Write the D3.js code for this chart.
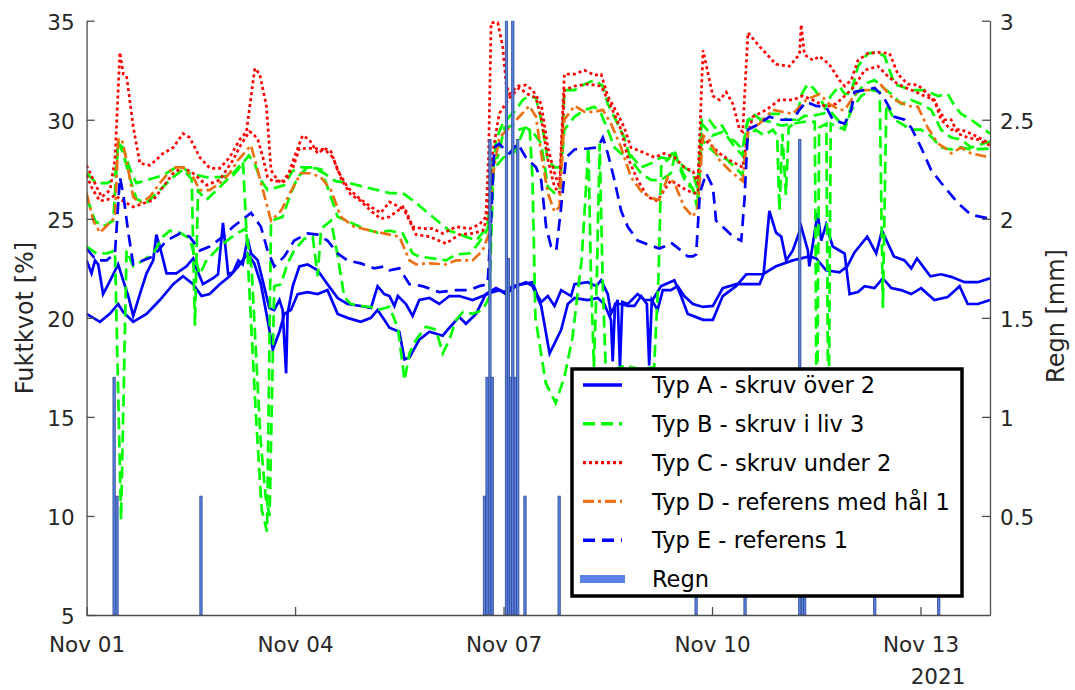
<!DOCTYPE html>
<html>
<head>
<meta charset="utf-8">
<script src="https://cdn.jsdelivr.net/npm/d3@7"></script>
<style>
  body { margin: 0; background: #fff; }
  svg { display: block; font-family: "DejaVu Sans", sans-serif; }
</style>
</head>
<body>
<svg width="1075" height="690"></svg>
<script>
// hours since 2021-11-01 00:00, value
var typA1 = [[0,22.9],[1.7,22.25],[2.9,22.9],[4,22.7],[5.7,21.2],[7.5,21.7],[9.2,22.2],[10.9,22.7],[12.6,21.9],[14.4,21.1],[16.1,20.1],[18.4,21.2],[20.7,22.25],[23,22.9],[24.1,24.2],[25.9,23.25],[27.6,22.25],[31,22.25],[34.5,22.6],[36.8,23.0],[37.9,22.5],[40.2,21.7],[43.7,22.0],[45.4,22.2],[47.1,24.8],[48.9,22.2],[50.6,22.3],[52.4,22.9],[53.9,22.7],[55.6,24.0],[56.8,23.25],[59.1,22.9],[60.8,21.9],[63.1,20.5],[64.8,20.4],[66.6,20.9],[67.7,20.4],[68.9,17.2],[69.4,20.2],[71.2,21.6],[73.5,22.6],[76.3,22.7],[79.8,22.4],[83.2,21.7],[86.7,21.0],[90.1,20.7],[94.7,20.6],[98.2,20.5],[100.5,21.6],[102.8,21.2],[104.6,21.1],[106.3,20.6],[107.5,21.1],[110.3,20.7],[112.6,20.1],[114.9,20.9],[118.4,21.0],[121.8,20.7],[125.3,21.1],[128.7,21.1],[133.3,20.9],[136.8,21.1],[140.2,21.3],[142.5,21.4],[144.8,21.2],[148.3,21.6],[151.7,21.8],[154,21.6],[157,20.6],[159.9,18.2],[163.9,19.4],[166.2,20.7],[168.5,21.0],[173.1,20.9],[176.5,21.0],[178.8,20.7],[181.1,19.9],[181.7,17.8],[182.5,20.7],[184.6,20.7],[186.9,20.6],[189.2,20.6],[191.5,21.1],[193.5,20.7],[194.3,17.6],[195.2,20.9],[197.2,20.4],[199,21.4],[201.8,21.4],[204.1,21.6],[206.4,21.1],[209.4,20.7],[212.9,20.55],[216.3,20.6],[219.7,21.5],[224.3,21.7],[227.8,21.7],[232.4,21.7],[233.8,22.2],[235.8,25.4],[238.1,24.3],[239.9,24.1],[241.6,22.9],[243.9,23.4],[246.8,24.6],[249.1,23.4],[249.6,22.6],[252.5,25.3],[253.7,23.9],[255.4,24.7],[257.7,23.6],[260,23.4],[261.8,23.25],[263.5,21.2],[266.4,21.3],[268.7,21.6],[272.1,21.5],[275,22.0],[277.9,21.5],[281.3,21.4],[284.8,21.2],[288.2,21.5],[292.8,20.9],[297.4,21.05],[301.5,21.6],[304.3,20.7],[307.8,20.7],[312,20.9]];
var typA2 = [[0,20.2],[4.6,19.8],[8,20.2],[10.9,20.7],[12.6,20.3],[16.1,19.8],[20.7,20.2],[25.3,20.9],[29.9,21.7],[33.3,22.1],[36.8,21.7],[39.7,21.1],[42.5,21.2],[46,21.7],[49.4,22.1],[52.4,22.6],[55.6,23.25],[57.9,22.75],[60.2,21.7],[62.5,19.9],[64.3,18.4],[66.6,19.3],[68.3,20.2],[70.6,20.4],[72.9,21.2],[76.3,21.3],[79.8,21.2],[83.2,21.4],[86.7,20.2],[90.1,20.0],[94.7,19.8],[98.2,20.0],[100.5,20.4],[102.8,19.9],[104.6,19.5],[108,19.3],[109.8,17.9],[111.5,18.0],[114.9,18.9],[118.4,19.3],[123,19.1],[125.3,19.5],[128.7,20.05],[131,19.7],[134.5,20.2],[137.9,21.2],[141.4,21.5],[144.3,21.3],[147.1,21.6],[150.6,21.7],[154,21.8],[155.5,21.2],[157,20.8],[159.3,21.1],[161.6,20.6],[163.9,21.4],[167.3,21.1],[168.5,21.7],[173.1,21.8],[176,21.6],[177.7,21.9],[180,21.2],[181.1,20.2],[183.4,20.9],[184.2,17.5],[185,20.8],[186.9,20.7],[190.3,21.2],[192.6,20.9],[195.5,20.9],[198.4,21.6],[203,21.9],[205.3,21.1],[207.6,20.2],[209.4,20.1],[212.9,19.9],[216.3,19.9],[219.7,21.1],[224.3,21.6],[227.8,22.2],[233.6,22.2],[238.1,22.6],[243.9,22.9],[249.6,23.1],[252,23.0],[255.4,22.4],[260,22.3],[262.7,22.6],[265.2,23.3],[269.6,24.1],[272.7,23.25],[274.7,24.4],[278.8,23.1],[282.5,22.9],[284.8,22.5],[286.8,23.0],[291.4,22.1],[295.1,22.2],[298.6,22.07],[303.2,21.8],[307.8,21.8],[312,22.0]];
var typB1 = [[0,27.3],[3.4,26.8],[7,26.8],[9.8,27.0],[10.9,28.8],[12.6,28.6],[15,27.5],[17.2,26.8],[21.8,27.0],[26.4,27.2],[31,27.6],[33.3,27.6],[35.6,27.3],[41.4,27.1],[46,27.1],[50.6,27.2],[52.4,27.5],[56,28.2],[58,27.8],[60,27.0],[62.5,26.45],[66,26.6],[68.3,26.7],[71,27.4],[74,27.6],[78,27.6],[82,27.3],[86,26.9],[91,26.8],[96,26.6],[100.5,26.45],[104.6,26.3],[109.2,26.3],[113.8,25.8],[119.5,25.1],[125.3,24.4],[131,24.1],[134.5,23.9],[136.8,24.3],[138.5,24.8],[139.7,26.1],[141.4,29.0],[143.7,29.8],[146,30.15],[148.3,30.5],[150.6,31.0],[152.9,31.2],[155.2,31.1],[157,30.0],[159.3,27.96],[161.6,27.6],[163.9,27.6],[165,31.5],[168.5,31.5],[172,31.8],[175.4,32.0],[178.3,31.7],[180,30.8],[183.4,29.8],[185.7,29.1],[188,27.96],[191.5,27.3],[195,26.95],[198.4,26.95],[201.8,27.3],[203,28.1],[206.4,27.6],[209.4,27.3],[211,26.5],[212.5,30.0],[215,30.0],[217,29.6],[219,29.8],[222,29.1],[224,28.9],[226.5,28.5],[228,29.8],[230,30.3],[233,30.0],[236,30.3],[239,30.3],[242,30.0],[245,30.0],[247,31.3],[249,31.8],[251,31.6],[253,31.2],[255,30.6],[257,31.2],[260,31.7],[261.8,31.3],[264,31.3],[266.4,32.7],[269.8,33.35],[273.3,33.4],[275.6,33.2],[279,31.8],[284.8,31.5],[289.4,31.5],[294,31.2],[297.4,31.3],[299.8,30.7],[302,30.3],[305.5,30.0],[312,29.3]];
var typB2 = [[0,26.1],[2.9,24.9],[5.7,24.6],[9.2,24.9],[10.9,28.9],[12.6,28.3],[14.9,27.1],[17.2,26.0],[20.7,25.8],[25.3,26.45],[29.9,27.1],[33.3,27.5],[36.3,27.0],[37.4,19.6],[38.5,26.5],[39.1,26.3],[41.4,25.95],[46,26.6],[49.4,27.1],[52.4,27.6],[54,27.9],[56,22],[58.5,15],[60.5,10.3],[62.3,9.2],[63.7,24.9],[67.7,25.1],[70.6,26.3],[72.9,27.1],[76.3,27.6],[81,27.5],[83.2,26.6],[86.7,25.1],[91.3,24.8],[95.9,24.5],[100.5,24.3],[104.6,24.4],[109.2,24.26],[112.6,23.25],[114.9,23.1],[119.5,23.0],[124.1,22.9],[127.6,23.2],[132.2,23.25],[134.5,23.6],[137.9,24.3],[139.1,24.8],[140.2,27.96],[142,28.1],[144.3,29.6],[147.1,29.7],[149.4,29.5],[151.7,29.6],[154,29.4],[157,28.8],[159.3,26.6],[161.6,26.3],[163.3,26.4],[165,29.5],[168.5,30.15],[172,30.5],[175.4,30.65],[177.7,30.3],[180,29.5],[182.3,28.6],[184.6,28.3],[188,28.2],[191.5,27.6],[195,27.8],[198.4,28.1],[201.8,28.0],[203,28.3],[206.4,27.2],[209.4,26.5],[211,25.5],[212.5,29.0],[215,28.6],[218,28.2],[221,28.0],[224,27.6],[226.5,27.2],[228.4,29.2],[231,29.5],[234,29.2],[237,29.5],[238.5,29.2],[239.3,25.4],[240.3,29.3],[241.5,26.2],[242.5,29.6],[245,29.9],[248,30.2],[251,30.2],[254,30.3],[257,30.4],[261.8,29.6],[265.2,31.2],[268.7,31.8],[272.1,32.0],[274.4,31.7],[277.9,31.3],[281.3,30.8],[284.8,31.0],[288.2,30.8],[291.7,30.5],[295.1,29.5],[298.6,29.1],[302,29.0],[305.5,28.6],[312,28.9]];
var typB3 = [[0,23.6],[3.4,23.25],[7,23.25],[9.8,23.4],[11.9,9.8],[13.8,23.4],[16.1,22.6],[19.5,22.9],[23,23.25],[26.4,24.1],[28.7,24.4],[32.2,24.3],[35.6,24.0],[39.1,22.2],[41.4,22.9],[46,23.6],[49.4,24.0],[52.4,24.3],[55,24.5],[57,22.5],[60,14],[61.8,11],[63.2,10],[64.8,21.6],[67.1,21.7],[69.4,22.75],[71.7,23.4],[75.2,24.0],[78.1,24.1],[79.8,22.1],[81,24.5],[84.4,24.9],[86.5,23.3],[89,21.05],[91.3,20.7],[94.7,20.6],[98.2,20.55],[100.5,20.4],[104.6,20.55],[107.5,19.5],[109.8,16.85],[111.5,18.2],[113.8,18.9],[117.2,19.55],[120.7,19.4],[123,18.2],[125.3,18.9],[127.6,19.9],[130,20.3],[133.3,20.2],[136.8,20.4],[139.1,21.05],[140.5,27.5],[144,28.1],[148,28.4],[151,29.5],[153,29.6],[154,27],[155,20],[158.6,16.7],[162,15.7],[165,17],[167.8,19],[171,23],[173.3,28.6],[174.2,22],[175.2,17.5],[176.2,22],[177.2,28.8],[178.2,22],[179.5,16.5],[181,17.3],[186,17.6],[191,17.4],[196,17.5],[197.5,22],[198.5,27.8],[201,28.0],[203,28.5],[205,27.5],[207,26.8],[209.4,26.5],[211,26.0],[212.5,29.8],[216,29.2],[220,29.4],[224,28.6],[226.5,28.2],[228.4,30.0],[232,30.0],[236,29.9],[240,29.7],[244,29.8],[248,29.9],[251.5,29.9],[252.2,13],[253,29.6],[255.5,29.8],[256.2,13],[257,29.8],[261.8,29.5],[264.1,30.5],[267.5,31.2],[271,31.5],[273.9,31.4],[275,20.5],[276.2,30.8],[279,30.0],[282.5,29.7],[284.8,29.5],[288.2,29.5],[291.7,29.15],[295.1,28.6],[298.6,28.5],[302,28.6],[305.5,28.5],[312,28.55]];
var typC1 = [[0,27.7],[3.5,26.6],[5.2,26.1],[8.1,26.45],[9.8,28.0],[11.5,33.4],[12.7,32.3],[13.8,32.2],[16.1,29.65],[18.4,27.8],[21.9,27.7],[26.4,28.3],[29.9,28.6],[33.3,29.3],[35.6,29.1],[39.1,28.1],[42.6,27.55],[46,27.55],[49.4,28.1],[52.9,29.0],[55.2,29.4],[58.1,32.6],[59.8,32.3],[62.1,30.7],[63.7,27.45],[66,26.95],[67.7,26.8],[69.4,27.1],[71.7,28.1],[74.6,29.2],[76.9,29.0],[79.8,28.3],[82.1,28.55],[84.4,28.4],[86.7,27.45],[90.1,26.6],[93.6,26.1],[98.2,25.6],[101.6,25.3],[104.6,25.85],[108,25.6],[110.3,25.4],[112.6,24.6],[116,24.5],[119.5,24.5],[123,24.26],[127.6,24.6],[132.2,24.5],[135.6,24.7],[137.9,25.1],[138.8,28.0],[139.7,34.9],[142,34.9],[143.7,33.7],[144.9,31.8],[146,31.3],[148.9,31.7],[151.7,31.75],[154,31.5],[157,30.8],[159.3,28.6],[161.6,27.3],[163.3,26.6],[165,32.3],[168.5,32.3],[172,32.5],[175.4,32.25],[177.7,32.3],[180,31.2],[183.4,30.3],[185.7,29.6],[188,28.6],[191.5,28.4],[196.1,28.1],[199.5,28.3],[203,28.1],[206.4,27.6],[209.4,27.4],[211.1,26.8],[212.9,33.5],[216.3,31.2],[218.6,31.0],[220.9,31.4],[223.2,30.8],[225.5,29.5],[226.6,29.4],[228.4,34.4],[232.4,33.7],[238.1,32.8],[242.7,32.7],[246.2,33.3],[246.8,34.8],[247.9,33.3],[250.8,33.0],[253.1,33.2],[256.5,32.8],[260,32.0],[261.8,31.7],[264.1,32.0],[266.4,33.0],[269.8,33.35],[273.3,33.4],[277.3,33.35],[280.2,32.3],[283.6,31.8],[287.1,31.75],[290.5,31.3],[293.4,30.8],[296.3,30.0],[298.6,30.0],[300.9,29.3],[304.3,29.1],[307.8,29.0],[312,28.7]];
var typC2 = [[0,27.2],[2,26.5],[4.6,25.9],[8,26.0],[9.8,26.2],[11.5,26.0],[13.8,25.8],[16.1,25.6],[23,25.95],[29.9,27.3],[33.3,27.6],[36.8,27.3],[41.4,26.7],[46,26.96],[50.6,27.97],[52.9,28.64],[56.2,29.4],[57.5,29.3],[59.2,28.97],[60.9,28.1],[62.5,27.1],[64.4,26.9],[67.8,26.9],[71.3,27.6],[73.5,28.55],[76.3,28.55],[78.2,28.56],[82.2,28.5],[85.1,28.1],[88,27.0],[91.3,26.2],[94.3,25.95],[98.2,25.4],[101.6,25.0],[104.6,25.1],[109.2,25.6],[113.8,24.2],[118.4,24.1],[124.1,23.75],[128.7,24.2],[133.3,24.26],[136.8,24.4],[138.3,25.0],[140.2,28.3],[142.5,30.3],[146,31.1],[149.4,31.6],[152.3,31.3],[155.2,31.1],[157,30.1],[159.3,28.0],[161.6,26.6],[163.3,26.3],[165,31.5],[168.5,31.7],[173,31.8],[177.7,31.7],[181,30.7],[184.6,29.5],[186.9,28.1],[190.3,26.95],[193.8,26.1],[197.2,25.9],[199.5,26.45],[201.8,26.95],[205.3,26.6],[209.4,26.3],[211.1,26.3],[212.3,29.1],[215.1,28.8],[218.6,28.3],[222,27.96],[226.6,27.6],[228.4,29.3],[230.1,30.15],[234.7,30.5],[239.3,31.0],[243.9,31.0],[247.3,31.2],[250.8,31.0],[255.4,30.65],[258.8,30.8],[261.8,31.2],[265.2,31.7],[268.7,32.5],[273.3,32.7],[276.7,32.2],[280.2,31.8],[284.8,31.5],[289.4,31.2],[292.8,31.0],[295.1,30.0],[298.6,29.5],[302,29.5],[305.5,29.3],[312,28.8]];
var typD = [[0,26.3],[2.3,24.9],[4.6,24.3],[8,24.8],[9.8,25.1],[10.9,29.0],[12.1,29.05],[13.8,27.96],[16.1,26.1],[18.4,25.8],[21.8,26.1],[25.3,26.8],[29.9,27.6],[33.3,27.6],[36.8,27.1],[39.1,26.45],[42.5,26.45],[46,26.8],[49.4,27.3],[52.3,27.96],[56.8,28.7],[59.1,27.45],[63.7,24.9],[67.1,25.4],[70.6,26.4],[74,27.3],[77.5,27.3],[80.9,27.1],[84.4,26.45],[87.8,25.1],[92.4,24.6],[98.2,24.4],[104.6,24.2],[108,24.1],[111.5,22.9],[113.8,22.7],[118.4,22.75],[124.1,22.7],[127.6,22.9],[133.3,22.9],[136.8,23.4],[139.1,24.3],[140.2,27.1],[142.5,29.1],[146,29.6],[149.4,30.15],[152.9,30.7],[155.2,30.15],[157,28.3],[159.3,26.3],[161.6,25.35],[163.3,25.6],[165,30.0],[168.5,30.7],[172,30.4],[175.4,30.4],[178.3,30.5],[181.1,29.8],[184.6,28.6],[188,27.1],[191.5,26.4],[195,26.05],[197.8,25.95],[200.7,27.1],[203,26.8],[206.4,25.6],[209.4,25.1],[211.1,25.6],[212.9,29.2],[215.1,28.97],[218.6,27.96],[222,27.45],[226.6,26.9],[228.4,29.5],[232.4,29.8],[237,30.5],[243.9,30.3],[248.5,31.0],[253.1,31.3],[256.5,30.8],[260,30.5],[261.8,30.5],[266.4,31.5],[271,31.5],[274.4,31.75],[279,31.0],[283.6,30.7],[287.1,30.65],[290.5,29.6],[294,28.8],[296.3,28.6],[298.6,28.3],[302,28.6],[305.5,28.3],[312,28.1]];
var typE = [[0,23.5],[3.4,22.9],[6.9,22.9],[9.8,23.25],[11.5,27.1],[12.6,26.3],[14.4,24.3],[16.1,22.7],[19.5,22.9],[23,23.1],[27.6,23.9],[32.2,24.26],[35.6,24.1],[39.1,23.4],[42.5,23.6],[47.1,24.1],[50.6,24.6],[52.4,24.8],[56.8,25.3],[60.2,24.6],[62.5,23.4],[64.8,22.6],[68.3,23.1],[71.7,23.9],[76.3,24.26],[79.8,24.2],[83.2,23.9],[86.7,23.25],[90.1,22.9],[94.7,22.75],[99.3,22.5],[102.8,22.6],[104.6,22.4],[108,22.5],[111.5,21.7],[116,21.6],[121.8,21.3],[127.6,21.4],[132.2,21.4],[135.6,21.6],[138.5,21.7],[139.7,24.9],[140.8,28.6],[142.5,28.8],[144.3,28.5],[146,28.3],[148.9,28.8],[151.7,28.1],[155.2,27.6],[157,26.95],[158.7,24.6],[160.4,23.6],[162.2,23.4],[163.9,25.6],[165.6,28.1],[168.5,28.5],[173.1,28.55],[176.5,28.6],[178.3,29.1],[180,28.3],[182.3,26.95],[184.6,25.4],[186.9,24.6],[190.3,23.9],[193.8,23.7],[197.8,23.5],[199.5,23.6],[201.8,23.8],[205.3,23.4],[207.6,23.1],[209.4,23.1],[210.5,23.2],[211.8,26.3],[214,27.3],[216.3,26.6],[217.4,24.9],[219.7,24.6],[223.2,24.1],[226.1,23.9],[227.2,25.95],[228.4,29.5],[232.4,29.8],[235.8,30.15],[239.3,30.0],[243.9,30.0],[246.2,30.5],[248.5,30.9],[251.9,30.7],[255.4,30.65],[257.7,30.0],[261.8,29.8],[264.1,30.5],[265.2,31.4],[268.7,31.5],[272.1,31.6],[275,31.2],[279,30.15],[282.5,30.0],[284.8,29.6],[288.2,28.6],[291.7,27.45],[296.3,26.6],[300.9,25.8],[305.5,25.2],[312,25.0]];
// rain [hour, mm]
var regn = [[9.5,1.2],[10.5,0.6],[39.5,0.6],[137.4,0.6],[138.3,1.2],[139.3,2.4],[140.1,1.2],[145.0,3.2],[145.7,1.8],[146.4,1.2],[147.2,3.2],[148.1,1.2],[148.9,2.4],[151.4,0.6],[163.2,0.6],[210.5,0.6],[227.4,0.6],[246.3,2.4],[247.2,0.6],[248.0,0.6],[272.2,0.6],[294.3,0.6]];

var xTickDays = [0, 3, 6, 9, 12];
var xTickLabels = ['Nov 01', 'Nov 04', 'Nov 07', 'Nov 10', 'Nov 13'];
var leftTicks = [5, 10, 15, 20, 25, 30, 35];
var rightTicks = [0.5, 1, 1.5, 2, 2.5, 3];
var legendLabels = ['Typ A - skruv över 2', 'Typ B - skruv i liv 3', 'Typ C - skruv under 2',
                    'Typ D - referens med hål 1', 'Typ E - referens 1', 'Regn'];

var t0 = Date.UTC(2021, 10, 1);
function toDate(h) { return new Date(t0 + h * 3600000); }

var svg = d3.select('svg');
var plotL = 86.6, plotR = 990, plotT = 20.7, plotB = 615;

var xScale = d3.scaleUtc()
               .domain([toDate(0), toDate(312)])
               .range([plotL, plotR]);
var yScale = d3.scaleLinear()
               .domain([5, 35])
               .range([plotB, plotT]);
var y2Scale = d3.scaleLinear()
                .domain([0, 3])
                .range([plotB, plotT]);

svg.append('clipPath')
   .attr('id', 'plotClip')
   .append('rect')
   .attr('x', plotL).attr('y', plotT)
   .attr('width', plotR - plotL).attr('height', plotB - plotT);

var line = d3.line()
             .x(function(d) { return xScale(toDate(d[0])); })
             .y(function(d) { return yScale(d[1]); });

var series = [
  { data: typA1, color: '#0000ff', dash: null },
  { data: typA2, color: '#0000ff', dash: null },
  { data: typB1, color: '#00ff00', dash: '12,6' },
  { data: typB2, color: '#00ff00', dash: '12,6' },
  { data: typB3, color: '#00ff00', dash: '12,6' },
  { data: typC1, color: '#ff0000', dash: '3,3' },
  { data: typC2, color: '#ff0000', dash: '3,3' },
  { data: typD,  color: '#ed7014', dash: '11,4,3,4' },
  { data: typE,  color: '#0000ff', dash: '12,7' }
];

var plot = svg.append('g').attr('clip-path', 'url(#plotClip)');

plot.selectAll('path.serie')
    .data(series)
    .enter()
    .append('path')
    .attr('class', 'serie')
    .attr('d', function(d) { return line(d.data); })
    .style('fill', 'none')
    .style('stroke', function(d) { return d.color; })
    .style('stroke-width', 2.7)
    .style('stroke-dasharray', function(d) { return d.dash; });

// rain bars on the right axis
var barW = xScale(toDate(0.8)) - xScale(toDate(0));
plot.selectAll('rect.regn')
    .data(regn)
    .enter()
    .append('rect')
    .attr('class', 'regn')
    .attr('x', function(d) { return xScale(toDate(d[0])) - barW / 2; })
    .attr('width', barW)
    .attr('y', function(d) { return y2Scale(d[1]); })
    .attr('height', function(d) { return plotB - y2Scale(d[1]); })
    .style('fill', '#5a82e6')
    .style('stroke', '#2e4a8c')
    .style('stroke-width', 0.8);

// axes
var xAxis = d3.axisBottom(xScale)
              .tickValues(xTickDays.map(function(d) { return toDate(d * 24); }))
              .tickFormat(function(d, i) { return xTickLabels[i]; })
              .tickSize(-8)
              .tickSizeOuter(0)
              .tickPadding(22);
svg.append('g')
   .attr('id', 'xAxis')
   .attr('transform', 'translate(0,' + plotB + ')')
   .call(xAxis);

var yAxis = d3.axisLeft(yScale)
              .tickValues(leftTicks)
              .tickSize(-8)
              .tickSizeOuter(0)
              .tickPadding(12);
svg.append('g')
   .attr('id', 'yAxis')
   .attr('transform', 'translate(' + plotL + ',0)')
   .call(yAxis);

var y2Axis = d3.axisRight(y2Scale)
               .tickValues(rightTicks)
               .tickFormat(d3.format('~g'))
               .tickSize(-8)
               .tickSizeOuter(0)
               .tickPadding(10);
svg.append('g')
   .attr('id', 'y2Axis')
   .attr('transform', 'translate(' + plotR + ',0)')
   .call(y2Axis);

svg.selectAll('#xAxis, #yAxis, #y2Axis')
   .attr('font-family', '"DejaVu Sans", sans-serif')
   .attr('font-size', 21.5);
svg.selectAll('#xAxis path, #yAxis path, #y2Axis path, #xAxis line, #yAxis line, #y2Axis line')
   .style('stroke', '#4d4d4d')
   .style('stroke-width', 1.3);
svg.selectAll('#xAxis text, #yAxis text, #y2Axis text').style('fill', '#262626');
svg.selectAll('#yAxis text, #y2Axis text').attr('dy', '0.4em');

svg.append('text')
   .attr('transform', 'translate(33,318) rotate(-90)')
   .attr('text-anchor', 'middle')
   .style('font-size', '24px')
   .style('fill', '#262626')
   .text('Fuktkvot [%]');

svg.append('text')
   .attr('transform', 'translate(1064,316) rotate(-90)')
   .attr('text-anchor', 'middle')
   .style('font-size', '24px')
   .style('fill', '#262626')
   .text('Regn [mm]');

svg.append('text')
   .attr('x', 938)
   .attr('y', 684)
   .attr('text-anchor', 'middle')
   .style('font-size', '21.5px')
   .style('fill', '#262626')
   .text('2021');

// legend
var legend = svg.append('g').attr('id', 'legend');
legend.append('rect')
      .attr('x', 572).attr('y', 369)
      .attr('width', 390).attr('height', 227)
      .style('fill', '#fff')
      .style('stroke', '#000')
      .style('stroke-width', 3.5);

var legendStyles = [series[0], series[2], series[5], series[7], series[8]];
legend.selectAll('line.key')
      .data(legendStyles)
      .enter()
      .append('line')
      .attr('class', 'key')
      .attr('x1', 583).attr('x2', 622)
      .attr('y1', function(d, i) { return 385 + i * 38.8; })
      .attr('y2', function(d, i) { return 385 + i * 38.8; })
      .style('stroke', function(d) { return d.color; })
      .style('stroke-width', 3.4)
      .style('stroke-dasharray', function(d) { return d.dash; });

legend.append('rect')
      .attr('x', 580).attr('y', 385 + 5 * 38.8 - 4)
      .attr('width', 45).attr('height', 8)
      .style('fill', '#5a82e6');

legend.selectAll('text')
      .data(legendLabels)
      .enter()
      .append('text')
      .attr('x', 652)
      .attr('y', function(d, i) { return 385 + i * 38.8; })
      .attr('dy', '0.36em')
      .style('font-size', '22.5px')
      .style('fill', '#000')
      .text(function(d) { return d; });
</script>
</body>
</html>
